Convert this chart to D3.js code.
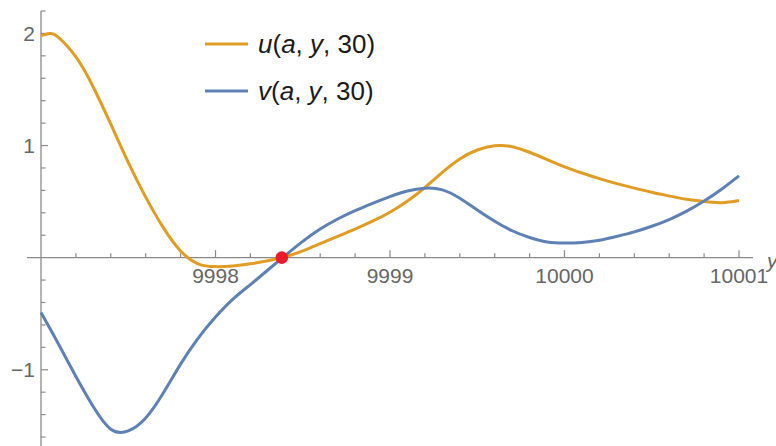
<!DOCTYPE html>
<html>
<head>
<meta charset="utf-8">
<script src="https://cdn.jsdelivr.net/npm/d3@7"></script>
<style>
  html, body { margin: 0; padding: 0; background: #fff; }
  svg { display: block; }
</style>
</head>
<body>
<svg id="chart" width="776" height="446"></svg>
<script>
// ---- data ----
const uX = [9997.0, 9997.05, 9997.1, 9997.2, 9997.3, 9997.4, 9997.5, 9997.6, 9997.7, 9997.8, 9997.9, 9998.0, 9998.1, 9998.2, 9998.3, 9998.4, 9998.5, 9998.6, 9998.7, 9998.8, 9998.9, 9999.0, 9999.1, 9999.2, 9999.3, 9999.4, 9999.5, 9999.6, 9999.7, 9999.8, 9999.9, 10000.0, 10000.1, 10000.2, 10000.3, 10000.4, 10000.5, 10000.6, 10000.7, 10000.8, 10000.9, 10001.0];
const uY = [1.98, 2.00, 1.965, 1.79, 1.52, 1.19, 0.85, 0.54, 0.27, 0.06, -0.055, -0.08, -0.074, -0.055, -0.028, 0.008, 0.06, 0.125, 0.19, 0.255, 0.325, 0.405, 0.505, 0.625, 0.76, 0.88, 0.96, 0.998, 0.99, 0.94, 0.875, 0.81, 0.755, 0.705, 0.66, 0.62, 0.583, 0.55, 0.52, 0.50, 0.49, 0.51];
const vX = [9997.0, 9997.1, 9997.2, 9997.3, 9997.4, 9997.5, 9997.6, 9997.7, 9997.8, 9997.9, 9998.0, 9998.1, 9998.2, 9998.3, 9998.4, 9998.5, 9998.6, 9998.7, 9998.8, 9998.9, 9999.0, 9999.1, 9999.2, 9999.3, 9999.4, 9999.5, 9999.6, 9999.7, 9999.8, 9999.9, 10000.0, 10000.1, 10000.2, 10000.3, 10000.4, 10000.5, 10000.6, 10000.7, 10000.8, 10000.9, 10001.0];
const vY = [-0.49, -0.77, -1.06, -1.33, -1.53, -1.545, -1.43, -1.21, -0.95, -0.72, -0.53, -0.37, -0.24, -0.11, 0.02, 0.145, 0.255, 0.345, 0.42, 0.485, 0.545, 0.595, 0.62, 0.605, 0.53, 0.425, 0.325, 0.24, 0.18, 0.14, 0.13, 0.135, 0.155, 0.19, 0.23, 0.28, 0.34, 0.415, 0.505, 0.61, 0.73];
const markX = [9998.38];
const markY = [0];
const xMajorTicks = [9998, 9999, 10000, 10001];
const yMajorTicks = [-1, 1, 2];
const seriesNames = ["u", "v"];

// ---- layout ----
const svg = d3.select("#chart");
const x = d3.scaleLinear().domain([9997, 10001]).range([41, 739]);
const y = d3.scaleLinear().domain([-1.68, 2.2]).range([446, 11]);
const axisColor = "#8a8a8a";
const labelColor = "#666";
const colors = { u: "#e19c24", v: "#5e81b5" };
const font = "'Liberation Sans', Arial, sans-serif";

// x axis line (at y = 0)
const gx = svg.append("g");
gx.append("line")
  .attr("x1", x(9996.92)).attr("x2", x(10001.08))
  .attr("y1", y(0)).attr("y2", y(0))
  .attr("stroke", axisColor).attr("stroke-width", 1.3);
const xMinor = d3.range(9997.2, 10001.001, 0.2).filter(t => !xMajorTicks.some(m => Math.abs(m - t) < 1e-6));
gx.selectAll(".xminor").data(xMinor).join("line")
  .attr("x1", d => x(d)).attr("x2", d => x(d))
  .attr("y1", y(0)).attr("y2", y(0) - 4.5)
  .attr("stroke", axisColor).attr("stroke-width", 1.2);
gx.selectAll(".xmajor").data(xMajorTicks).join("line")
  .attr("x1", d => x(d)).attr("x2", d => x(d))
  .attr("y1", y(0)).attr("y2", y(0) - 7.5)
  .attr("stroke", axisColor).attr("stroke-width", 1.2);
gx.selectAll(".xlab").data(xMajorTicks).join("text")
  .attr("x", d => x(d)).attr("y", y(0) + 25)
  .attr("text-anchor", "middle")
  .attr("font-family", font).attr("font-size", 21)
  .attr("fill", labelColor)
  .text(d => d);
gx.append("text")
  .attr("x", 767).attr("y", y(0) + 10)
  .attr("font-family", font).attr("font-size", 21).attr("font-style", "italic")
  .attr("fill", labelColor)
  .text("y");

// y axis line (at x = 9997)
const gy = svg.append("g");
gy.append("line")
  .attr("x1", x(9997)).attr("x2", x(9997))
  .attr("y1", y(2.2)).attr("y2", y(-1.68))
  .attr("stroke", axisColor).attr("stroke-width", 1.3);
const yMinor = d3.range(-1.6, 2.2001, 0.2).filter(t => Math.abs(t) > 1e-6 && !yMajorTicks.some(m => Math.abs(m - t) < 1e-6));
gy.selectAll(".yminor").data(yMinor).join("line")
  .attr("x1", x(9997)).attr("x2", x(9997) + 4.5)
  .attr("y1", d => y(d)).attr("y2", d => y(d))
  .attr("stroke", axisColor).attr("stroke-width", 1.2);
gy.selectAll(".ymajor").data(yMajorTicks).join("line")
  .attr("x1", x(9997)).attr("x2", x(9997) + 7)
  .attr("y1", d => y(d)).attr("y2", d => y(d))
  .attr("stroke", axisColor).attr("stroke-width", 1.2);
gy.selectAll(".ylab").data(yMajorTicks).join("text")
  .attr("x", 35).attr("y", d => y(d) + 7.5)
  .attr("text-anchor", "end")
  .attr("font-family", font).attr("font-size", 21)
  .attr("fill", labelColor)
  .text(d => d < 0 ? "\u2212" + Math.abs(d) : d);

// curves
const line = d3.line().x(d => x(d[0])).y(d => y(d[1])).curve(d3.curveNatural);
const uData = uX.map((v, i) => [v, uY[i]]);
const vData = vX.map((v, i) => [v, vY[i]]);
svg.append("path").datum(uData).attr("d", line)
  .attr("fill", "none").attr("stroke", colors.u).attr("stroke-width", 3).attr("stroke-linejoin", "round");
svg.append("path").datum(vData).attr("d", line)
  .attr("fill", "none").attr("stroke", colors.v).attr("stroke-width", 3).attr("stroke-linejoin", "round");

// marker
svg.selectAll(".mark").data(markX.map((v, i) => [v, markY[i]])).join("circle")
  .attr("cx", d => x(d[0])).attr("cy", d => y(d[1])).attr("r", 6.3)
  .attr("fill", "#ee1c2a");

// legend
const legend = svg.append("g");
seriesNames.forEach((name, i) => {
  const cy = 44 + i * 47;
  legend.append("line")
    .attr("x1", 205).attr("x2", 248).attr("y1", cy).attr("y2", cy)
    .attr("stroke", colors[name]).attr("stroke-width", 3);
  const t = legend.append("text")
    .attr("x", 258).attr("y", cy + 9)
    .attr("font-family", font).attr("font-size", 26)
    .attr("fill", "#1a1a1a");
  t.append("tspan").attr("font-style", "italic").text(name);
  t.append("tspan").text("(");
  t.append("tspan").attr("font-style", "italic").text("a");
  t.append("tspan").text(", ");
  t.append("tspan").attr("font-style", "italic").text("y");
  t.append("tspan").text(", 30)");
});
</script>
</body>
</html>
